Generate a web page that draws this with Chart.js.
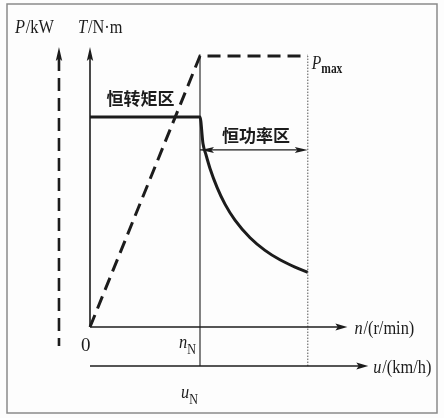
<!DOCTYPE html>
<html>
<head>
<meta charset="utf-8">
<script src="https://cdn.jsdelivr.net/npm/chart.js@4/dist/chart.umd.min.js"></script>
<style>
  body { margin: 0; background: #fff; }
  canvas { display: block; }
</style>
</head>
<body>
<canvas id="chart" width="444" height="418"></canvas>
<script>
// speed n relative to rated speed nN, torque T relative to rated torque
const torqueN = [0, 1, 1.027, 1.055, 1.091, 1.155, 1.227, 1.318, 1.455, 1.591, 1.727, 1.864, 1.98];
const torqueT = [1, 1, 0.874, 0.819, 0.755, 0.665, 0.585, 0.509, 0.425, 0.365, 0.32, 0.285, 0.26];
// power relative to Pmax
const powerN = [0, 1, 1.98];
const powerP = [0, 1, 1];

const nRated = 1;
const nMax = 1.98;
const nAxisEnd = 2.34;
const uAxisEnd = 2.53;
const uAxisLevel = -0.186;
const tAxisTop = 1.333;
const pAxisN = -0.282;
const pAxisRange = [-0.07, 1.033];
const regionArrowT = 0.843;

const ink = '#1c1c1c';

const pts = (xs, ys) => xs.map((x, i) => ({ x: x, y: ys[i] }));

function arrowHead(ctx, x, y, dir, len, half) {
  ctx.save();
  ctx.translate(x, y);
  ctx.rotate(dir);
  ctx.beginPath();
  ctx.moveTo(0, 0);
  ctx.lineTo(-len, -half);
  ctx.lineTo(-len * 0.8, 0);
  ctx.lineTo(-len, half);
  ctx.closePath();
  ctx.fillStyle = ink;
  ctx.fill();
  ctx.restore();
}

// draw text made of pieces [text, font, dy, gap], squeezed horizontally like the scan
function richText(ctx, x, y, parts, squeeze) {
  const sq = squeeze || 0.86;
  ctx.save();
  ctx.translate(x, y);
  ctx.scale(sq, 1);
  let cx = 0;
  parts.forEach(p => {
    ctx.font = p[1];
    ctx.fillText(p[0], cx, p[2] || 0);
    cx += ctx.measureText(p[0]).width + (p[3] || 0);
  });
  ctx.restore();
}

const decor = {
  id: 'decor',
  beforeDraw(chart) {
    const ctx = chart.ctx;
    ctx.save();
    ctx.fillStyle = '#fdfdfd';
    ctx.fillRect(0, 0, chart.width, chart.height);
    ctx.strokeStyle = '#8a8a8a';
    ctx.lineWidth = 1.5;
    ctx.strokeRect(7, 4, chart.width - 14, chart.height - 9);
    ctx.restore();
  },
  afterDraw(chart) {
    const ctx = chart.ctx;
    const x = chart.scales.x, y = chart.scales.y, yP = chart.scales.yP;
    const x0 = x.getPixelForValue(0), y0 = y.getPixelForValue(0);
    const yU = y.getPixelForValue(uAxisLevel);
    ctx.save();
    // axis arrows
    arrowHead(ctx, x.getPixelForValue(nAxisEnd), y0, 0, 12, 3.5);
    arrowHead(ctx, x.getPixelForValue(uAxisEnd), yU, 0, 12, 3.5);
    arrowHead(ctx, x0, y.getPixelForValue(tAxisTop), -Math.PI / 2, 14, 3.2);
    arrowHead(ctx, x.getPixelForValue(pAxisN), yP.getPixelForValue(pAxisRange[1]), -Math.PI / 2, 14, 3.2);
    // region arrow
    const ra = y.getPixelForValue(regionArrowT);
    arrowHead(ctx, x.getPixelForValue(nMax), ra, 0, 13, 3);
    arrowHead(ctx, x.getPixelForValue(nRated) + 1, ra, Math.PI, 13, 3);

    ctx.fillStyle = ink;
    ctx.textBaseline = 'alphabetic';
    ctx.textAlign = 'left';
    const serif = '"Liberation Serif", "DejaVu Serif", serif';
    const it = 'italic 19px ' + serif, rg = '19px ' + serif, sub = '14px ' + serif;
    // axis titles
    const pX = x.getPixelForValue(pAxisN);
    richText(ctx, pX - 44, 33, [['P', it, 0, 1], ['/kW', rg]]);
    richText(ctx, x0 - 12, 33, [['T', it, 0, 1], ['/N\u00b7m', rg]]);
    richText(ctx, x.getPixelForValue(nAxisEnd) + 7, y0 + 7, [['n', it, 0, 1], ['/(r/min)', rg]]);
    richText(ctx, x.getPixelForValue(uAxisEnd) + 5, yU + 7, [['u', it, 0, 1], ['/(km/h)', rg]]);
    // Pmax
    richText(ctx, x.getPixelForValue(nMax) + 4, yP.getPixelForValue(1) + 13,
      [['P', it, 0, 0], ['max', 'bold ' + sub, 4]], 0.82);
    // ticks
    ctx.font = rg;
    ctx.fillText('0', x0 - 9, y0 + 24);
    const nN = x.getPixelForValue(nRated);
    richText(ctx, nN - 21, y0 + 21, [['n', it, 0, 0], ['N', sub, 6]]);
    richText(ctx, nN - 19, yU + 32, [['u', it, 0, 0], ['N', sub, 6]]);
    // region labels
    ctx.font = 'bold 17px "Noto Sans CJK SC", sans-serif';
    ctx.textAlign = 'center';
    ctx.fillText('恒转矩区', x.getPixelForValue(0.46), y.getPixelForValue(1) - 12);
    ctx.fillText('恒功率区', x.getPixelForValue(1.51), ra - 8);
    ctx.restore();
  }
};

const thin = { borderColor: ink, borderWidth: 1.6, pointRadius: 0, fill: false };

new Chart(document.getElementById('chart'), {
  type: 'line',
  data: {
    datasets: [
      Object.assign({ data: pts([0, 0], [0, tAxisTop - 0.03]) }, thin),
      Object.assign({ data: pts([0, nAxisEnd - 0.05], [0, 0]) }, thin),
      Object.assign({ data: pts([0, uAxisEnd - 0.05], [uAxisLevel, uAxisLevel]) }, thin),
      Object.assign({ data: pts([nRated, nRated], [uAxisLevel, 1.29]) }, thin, { borderWidth: 1.1 }),
      Object.assign({ data: pts([nRated, nMax - 0.05], [regionArrowT, regionArrowT]) }, thin, { borderWidth: 1.3 }),
      Object.assign({ data: pts([nMax, nMax], [uAxisLevel, 1.29]) }, thin,
        { borderWidth: 1, borderDash: [1.5, 1.5], borderColor: '#555' }),
      {
        data: pts([pAxisN, pAxisN], [pAxisRange[1] - 0.04, pAxisRange[0]]),
        yAxisID: 'yP', borderColor: ink, borderWidth: 2.6, borderDash: [13, 7], pointRadius: 0
      },
      {
        data: pts(torqueN, torqueT), borderColor: ink, borderWidth: 3,
        pointRadius: 0, cubicInterpolationMode: 'monotone'
      },
      {
        data: pts(powerN, powerP), yAxisID: 'yP', borderColor: ink, borderWidth: 3,
        borderDash: [13, 7], pointRadius: 0
      }
    ]
  },
  options: {
    responsive: false,
    animation: false,
    parsing: false,
    layout: { padding: 0 },
    plugins: { legend: { display: false }, tooltip: { enabled: false } },
    scales: {
      x: { type: 'linear', display: false, min: -90 / 110, max: 354 / 110 },
      y: { type: 'linear', display: false, min: -91 / 210, max: 327 / 210 },
      yP: { type: 'linear', display: false, min: -91 / 271, max: 327 / 271 }
    }
  },
  plugins: [decor]
});
</script>
</body>
</html>
